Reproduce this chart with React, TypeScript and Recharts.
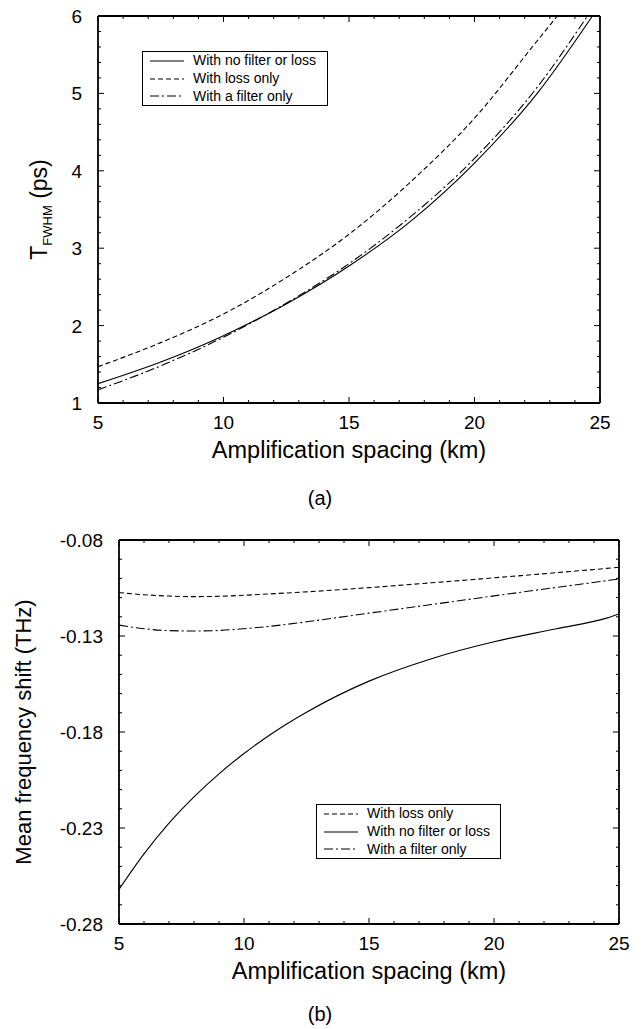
import React from 'react';
import { LineChart, Line, XAxis, YAxis, Legend } from 'recharts';

const FONT = '"Liberation Sans", Arial, Helvetica, sans-serif';

// ---------- Panel (a): pulse width vs amplification spacing ----------
const aKmNoFilter = [5, 7.5, 10, 12.5, 15, 17.5, 20, 22.5, 24.7];
const aTNoFilter = [1.25, 1.53, 1.87, 2.28, 2.77, 3.36, 4.1, 5.0, 6.0];
const aKmLoss = [5, 7.5, 10, 12.5, 15, 17.5, 20, 22.5, 23.3];
const aTLoss = [1.47, 1.78, 2.15, 2.62, 3.18, 3.87, 4.68, 5.68, 6.0];
const aKmFilter = [5, 7.5, 10, 12.5, 15, 17.5, 20, 22.5, 24.5];
const aTFilter = [1.17, 1.48, 1.85, 2.29, 2.8, 3.42, 4.16, 5.08, 6.0];

const aXTicks = [5, 6, 7, 8, 9, 10, 11, 12, 13, 14, 15, 16, 17, 18, 19, 20, 21, 22, 23, 24, 25];
const aXMajor = [5, 10, 15, 20, 25];
const aYTicks = [1, 1.2, 1.4, 1.6, 1.8, 2, 2.2, 2.4, 2.6, 2.8, 3, 3.2, 3.4, 3.6, 3.8, 4, 4.2, 4.4, 4.6, 4.8, 5, 5.2, 5.4, 5.6, 5.8, 6];
const aYMajor = [1, 2, 3, 4, 5, 6];

// ---------- Panel (b): mean frequency shift vs amplification spacing ----------
const bKm = [5, 6, 7, 8, 9, 10, 11, 12.5, 15, 17.5, 20, 22.5, 24.5, 25];
const bShiftNoFilter = [-0.262, -0.2435, -0.2275, -0.2138, -0.2018, -0.1912, -0.1818, -0.1697, -0.1535, -0.1418, -0.133, -0.1262, -0.1207, -0.1185];
const bShiftLoss = [-0.1074, -0.1085, -0.1092, -0.1095, -0.1093, -0.1088, -0.1081, -0.107, -0.1048, -0.1023, -0.0997, -0.097, -0.0948, -0.0942];
const bShiftFilter = [-0.1243, -0.1262, -0.1272, -0.1274, -0.1271, -0.1262, -0.125, -0.1226, -0.1181, -0.1136, -0.1091, -0.1047, -0.1012, -0.1003];

const bXTicks = [5, 6, 7, 8, 9, 10, 11, 12, 13, 14, 15, 16, 17, 18, 19, 20, 21, 22, 23, 24, 25];
const bXMajor = [5, 10, 15, 20, 25];
const bYTicks = [-0.28, -0.27, -0.26, -0.25, -0.24, -0.23, -0.22, -0.21, -0.2, -0.19, -0.18, -0.17, -0.16, -0.15, -0.14, -0.13, -0.12, -0.11, -0.1, -0.09, -0.08];
const bYMajor = [-0.28, -0.23, -0.18, -0.13, -0.08];

const NAME_NONE = 'With no filter or loss';
const NAME_LOSS = 'With loss only';
const NAME_FILTER = 'With a filter only';
const DASH_LOSS = '5 3';
const DASH_FILTER = '9 3 2 3';

const toPoints = (xs: number[], ys: number[]) => xs.map((x, i) => ({ x, y: ys[i] }));

const isIn = (arr: number[], v: number) => arr.some((m) => Math.abs(m - v) < 1e-6);

type Side = 'bottom' | 'top' | 'left' | 'right';

const makeTick = (side: Side, majors: number[], fmt?: (v: number) => string) => (props: any) => {
  const { x, y, payload } = props;
  const v = payload.value as number;
  const major = isIn(majors, v);
  const L = major ? 6 : 3;
  let line;
  if (side === 'bottom') line = <line x1={x} y1={y} x2={x} y2={y - L} stroke="#000" strokeWidth={1} />;
  else if (side === 'top') line = <line x1={x} y1={y} x2={x} y2={y + L} stroke="#000" strokeWidth={1} />;
  else if (side === 'left') line = <line x1={x} y1={y} x2={x + L} y2={y} stroke="#000" strokeWidth={1} />;
  else line = <line x1={x} y1={y} x2={x - L} y2={y} stroke="#000" strokeWidth={1} />;
  let label = null;
  if (fmt && major) {
    if (side === 'bottom')
      label = (
        <text x={x} y={y + 26} textAnchor="middle" fontSize={19} fontFamily={FONT} fill="#000">
          {fmt(v)}
        </text>
      );
    else if (side === 'left')
      label = (
        <text x={x - 16} y={y + 7} textAnchor="end" fontSize={19} fontFamily={FONT} fill="#000">
          {fmt(v)}
        </text>
      );
  }
  return (
    <g>
      {line}
      {label}
    </g>
  );
};

const XTitle = (props: any) => {
  const vb = props.viewBox;
  return (
    <text x={vb.x + vb.width / 2} y={vb.y + 55} textAnchor="middle" fontSize={23.5} fontFamily={FONT} fill="#000">
      Amplification spacing (km)
    </text>
  );
};

const TopYTitle = (props: any) => {
  const vb = props.viewBox;
  const cx = vb.x + 47;
  const cy = vb.y + vb.height / 2;
  return (
    <text x={cx} y={cy} transform={`rotate(-90, ${cx}, ${cy})`} textAnchor="middle" fontSize={23} fontFamily={FONT} fill="#000">
      T
      <tspan fontSize={13} dy={5}>FWHM</tspan>
      <tspan fontSize={23} dy={-5}> (ps)</tspan>
    </text>
  );
};

const BottomYTitle = (props: any) => {
  const vb = props.viewBox;
  const cx = vb.x + 31;
  const cy = vb.y + vb.height / 2;
  return (
    <text x={cx} y={cy} transform={`rotate(-90, ${cx}, ${cy})`} textAnchor="middle" fontSize={22} fontFamily={FONT} fill="#000">
      Mean frequency shift (THz)
    </text>
  );
};

type Entry = { name: string; dash?: string };

const LegendBox = ({ entries }: { entries: Entry[] }) => (
  <div
    style={{
      boxSizing: 'border-box',
      width: '100%',
      height: 55,
      border: '1.3px solid #000',
      background: '#fff',
      padding: '0 0 0 7px',
      fontFamily: FONT,
      fontSize: 14,
      color: '#000',
    }}
  >
    {entries.map((e) => (
      <div key={e.name} style={{ display: 'flex', alignItems: 'center', height: 17.8 }}>
        <svg width={34} height={4} style={{ marginRight: 9, display: 'block' }}>
          <line x1={0} y1={2} x2={34} y2={2} stroke="#000" strokeWidth={1.1} strokeDasharray={e.dash} />
        </svg>
        <span style={{ lineHeight: '17.8px', whiteSpace: 'nowrap' }}>{e.name}</span>
      </div>
    ))}
  </div>
);

const axisLine = { stroke: '#000', strokeWidth: 1.8 };

const aLegend: Entry[] = [{ name: NAME_NONE }, { name: NAME_LOSS, dash: DASH_LOSS }, { name: NAME_FILTER, dash: DASH_FILTER }];
const bLegend: Entry[] = [{ name: NAME_LOSS, dash: DASH_LOSS }, { name: NAME_NONE }, { name: NAME_FILTER, dash: DASH_FILTER }];

export default function App() {
  return (
    <div style={{ position: 'absolute', left: 0, top: 0, width: 642, height: 1029, background: '#fff' }}>
      <div style={{ position: 'absolute', left: 0, top: 0 }}>
        <LineChart width={642} height={520} margin={{ top: 15, right: 41, bottom: 57, left: 0 }}>
          <XAxis
            xAxisId="b"
            dataKey="x"
            type="number"
            domain={[5, 25]}
            allowDataOverflow
            ticks={aXTicks}
            interval={0}
            height={60}
            tickSize={0}
            tickMargin={0}
            tickLine={false}
            axisLine={axisLine}
            tick={makeTick('bottom', aXMajor, (v) => String(v))}
            label={(p: any) => <XTitle {...p} />}
          />
          <XAxis
            xAxisId="t"
            orientation="top"
            dataKey="x"
            type="number"
            domain={[5, 25]}
            allowDataOverflow
            ticks={aXTicks}
            interval={0}
            height={1}
            tickSize={0}
            tickMargin={0}
            tickLine={false}
            axisLine={axisLine}
            tick={makeTick('top', aXMajor)}
          />
          <YAxis
            yAxisId="l"
            dataKey="y"
            type="number"
            domain={[1, 6]}
            allowDataOverflow
            ticks={aYTicks}
            interval={0}
            width={98}
            tickSize={0}
            tickMargin={0}
            tickLine={false}
            axisLine={axisLine}
            tick={makeTick('left', aYMajor, (v) => String(v))}
            label={(p: any) => <TopYTitle {...p} />}
          />
          <YAxis
            yAxisId="r"
            orientation="right"
            dataKey="y"
            type="number"
            domain={[1, 6]}
            allowDataOverflow
            ticks={aYTicks}
            interval={0}
            width={1}
            tickSize={0}
            tickMargin={0}
            tickLine={false}
            axisLine={axisLine}
            tick={makeTick('right', aYMajor)}
          />
          <Line xAxisId="b" yAxisId="l" data={toPoints(aKmNoFilter, aTNoFilter)} dataKey="y" name={NAME_NONE} type="monotone" stroke="#000" strokeWidth={1.1} dot={false} isAnimationActive={false} />
          <Line xAxisId="b" yAxisId="l" data={toPoints(aKmLoss, aTLoss)} dataKey="y" name={NAME_LOSS} type="monotone" stroke="#000" strokeWidth={1.1} strokeDasharray={DASH_LOSS} dot={false} isAnimationActive={false} />
          <Line xAxisId="b" yAxisId="l" data={toPoints(aKmFilter, aTFilter)} dataKey="y" name={NAME_FILTER} type="monotone" stroke="#000" strokeWidth={1.1} strokeDasharray={DASH_FILTER} dot={false} isAnimationActive={false} />
          <Line xAxisId="t" yAxisId="r" data={toPoints(aKmNoFilter, aTNoFilter)} dataKey="y" stroke="none" strokeWidth={0} dot={false} legendType="none" isAnimationActive={false} />
          <Legend
            layout="horizontal"
            verticalAlign="middle"
            align="center"
            wrapperStyle={{ left: 142, top: 51, width: 186, height: 55 }}
            content={() => <LegendBox entries={aLegend} />}
          />
        </LineChart>
      </div>
      <div style={{ position: 'absolute', left: 300, top: 486, width: 40, textAlign: 'center', fontFamily: FONT, fontSize: 20, lineHeight: '24px' }}>(a)</div>

      <div style={{ position: 'absolute', left: 0, top: 520 }}>
        <LineChart width={642} height={509} margin={{ top: 19, right: 22, bottom: 45, left: 0 }}>
          <XAxis
            xAxisId="b"
            dataKey="x"
            type="number"
            domain={[5, 25]}
            allowDataOverflow
            ticks={bXTicks}
            interval={0}
            height={60}
            tickSize={0}
            tickMargin={0}
            tickLine={false}
            axisLine={axisLine}
            tick={makeTick('bottom', bXMajor, (v) => String(v))}
            label={(p: any) => <XTitle {...p} />}
          />
          <XAxis
            xAxisId="t"
            orientation="top"
            dataKey="x"
            type="number"
            domain={[5, 25]}
            allowDataOverflow
            ticks={bXTicks}
            interval={0}
            height={1}
            tickSize={0}
            tickMargin={0}
            tickLine={false}
            axisLine={axisLine}
            tick={makeTick('top', bXMajor)}
          />
          <YAxis
            yAxisId="l"
            dataKey="y"
            type="number"
            domain={[-0.28, -0.08]}
            allowDataOverflow
            ticks={bYTicks}
            interval={0}
            width={119}
            tickSize={0}
            tickMargin={0}
            tickLine={false}
            axisLine={axisLine}
            tick={makeTick('left', bYMajor, (v) => v.toFixed(2))}
            label={(p: any) => <BottomYTitle {...p} />}
          />
          <YAxis
            yAxisId="r"
            orientation="right"
            dataKey="y"
            type="number"
            domain={[-0.28, -0.08]}
            allowDataOverflow
            ticks={bYTicks}
            interval={0}
            width={1}
            tickSize={0}
            tickMargin={0}
            tickLine={false}
            axisLine={axisLine}
            tick={makeTick('right', bYMajor)}
          />
          <Line xAxisId="b" yAxisId="l" data={toPoints(bKm, bShiftLoss)} dataKey="y" name={NAME_LOSS} type="monotone" stroke="#000" strokeWidth={1.1} strokeDasharray={DASH_LOSS} dot={false} isAnimationActive={false} />
          <Line xAxisId="b" yAxisId="l" data={toPoints(bKm, bShiftNoFilter)} dataKey="y" name={NAME_NONE} type="monotone" stroke="#000" strokeWidth={1.1} dot={false} isAnimationActive={false} />
          <Line xAxisId="b" yAxisId="l" data={toPoints(bKm, bShiftFilter)} dataKey="y" name={NAME_FILTER} type="monotone" stroke="#000" strokeWidth={1.1} strokeDasharray={DASH_FILTER} dot={false} isAnimationActive={false} />
          <Line xAxisId="t" yAxisId="r" data={toPoints(bKm, bShiftNoFilter)} dataKey="y" stroke="none" strokeWidth={0} dot={false} legendType="none" isAnimationActive={false} />
          <Legend
            layout="horizontal"
            verticalAlign="middle"
            align="center"
            wrapperStyle={{ left: 316, top: 284, width: 185, height: 55 }}
            content={() => <LegendBox entries={bLegend} />}
          />
        </LineChart>
      </div>
      <div style={{ position: 'absolute', left: 300, top: 1002, width: 40, textAlign: 'center', fontFamily: FONT, fontSize: 20, lineHeight: '24px' }}>(b)</div>
    </div>
  );
}
